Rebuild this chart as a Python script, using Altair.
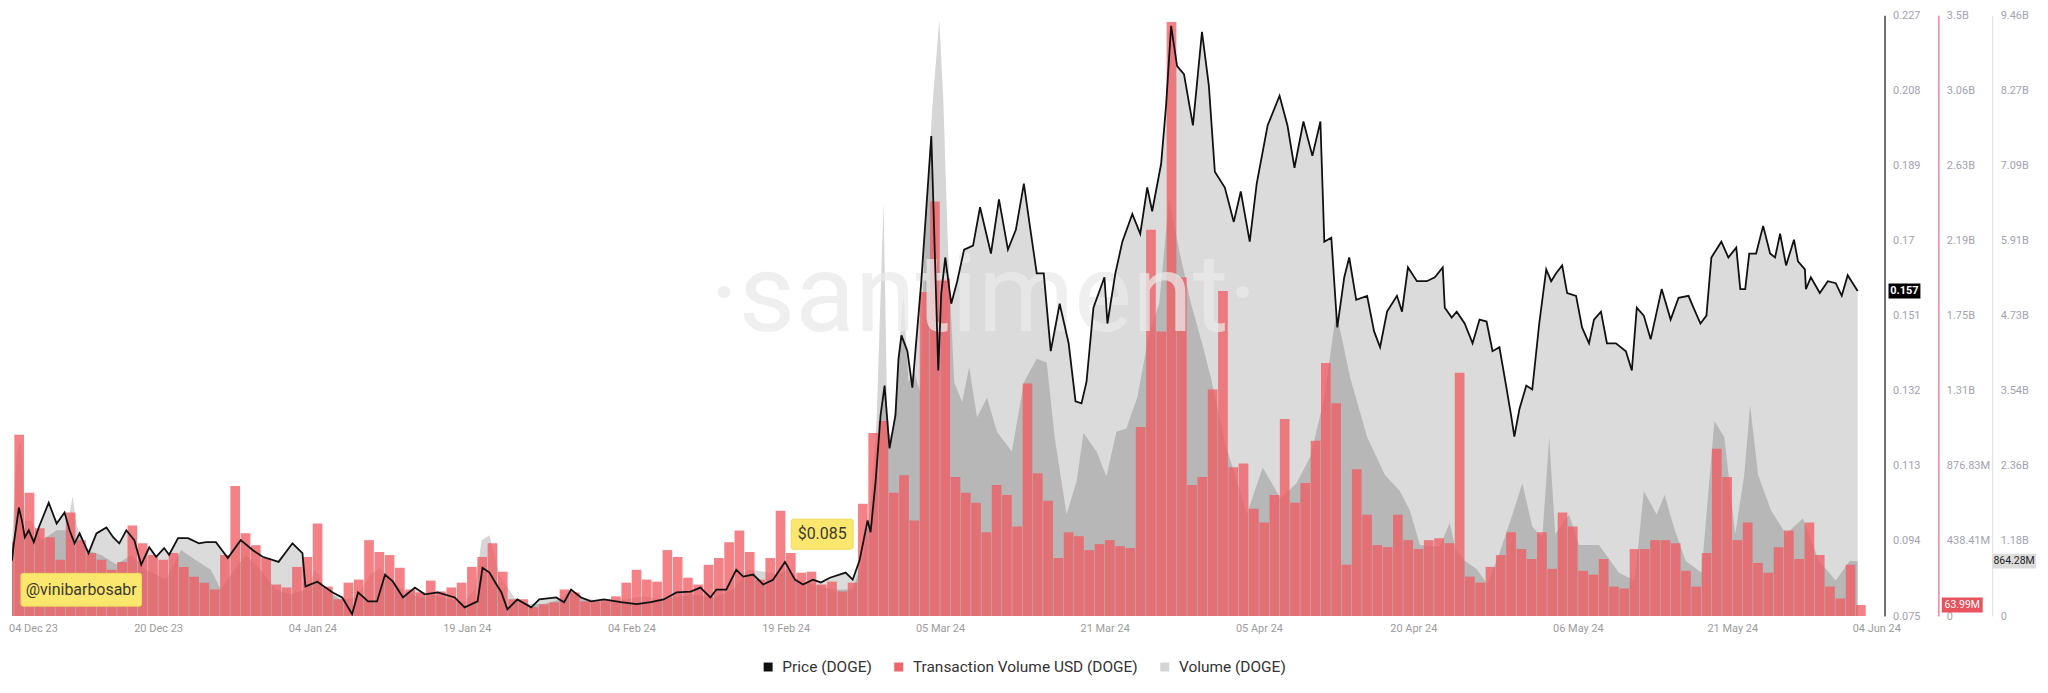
import altair as alt
import pandas as pd

ORIGIN = pd.Timestamp("2023-12-04T00:00:00Z")
DOMAIN_DAYS = [1.8, 183.8]
W, H = 1879, 603

# ---------------- data ----------------
# Price (DOGE): day offset from 04 Dec 2023, USD
price_days = [1.8,1.98,2.47,2.76,3.05,3.43,3.92,4.40,5.37,6.14,6.91,7.40,7.88,8.37,9.24,10.01,10.98,11.65,12.23,12.91,
              13.69,14.36,15.14,15.81,16.59,17.07,17.94,18.91,19.97,20.65,21.62,22.78,24.03,25.19,26.16,27.71,29.06,30.03,30.32,31.48,
              32.93,33.90,34.86,35.44,36.41,37.28,38.06,38.83,39.80,40.96,41.92,43.18,44.83,45.79,47.05,47.53,
              48.21,48.89,49.37,49.95,50.92,52.27,53.05,54.69,55.46,56.14,57.11,58.08,59.33,60.98,62.52,63.88,65.14,66.39,67.75,68.71,
              69.68,70.26,71.23,72.19,72.87,73.84,74.81,75.77,76.93,77.90,78.68,79.64,80.41,81.29,82.83,83.51,84.19,84.96,85.25,85.74,
              86.22,86.61,87.09,87.67,
              87.96,88.25,88.83,89.31,90.18,91.15,91.34,91.83,92.12,92.51,93.09,93.67,94.34,95.21,95.89,96.95,97.73,98.60,99.37,100.15,
              100.73,101.40,102.08,102.76,103.63,104.50,105.17,105.75,106.24,106.91,107.98,108.27,109.04,109.72,110.69,111.46,112.14,112.62,113.49,113.97,
              114.46,115.04,115.71,116.58,117.46,118.13,118.71,119.68,120.55,121.23,122.10,122.78,123.84,125.00,125.77,126.45,127.32,128.19,128.97,129.35,
              130.03,130.61,131.29,131.77,132.45,133.51,134.19,134.77,
              135.45,136.41,136.90,137.48,138.35,139.31,140.09,140.86,141.06,141.73,142.22,142.99,143.76,144.44,145.12,145.70,146.37,147.05,147.53,147.82,
              148.31,148.98,149.56,150.24,150.92,151.40,151.88,152.47,152.95,153.82,154.40,155.08,155.56,156.24,156.82,157.69,158.66,159.24,159.72,160.40,
              161.07,162.14,163.01,163.78,164.75,165.23,165.91,166.49,166.97,167.94,168.62,169.39,169.78,170.26,170.65,171.32,172.00,172.68,173.16,173.65,
              174.23,175.00,175.39,176.06,176.16,176.64,177.51,178.29,179.06,179.64,180.22,180.71,181.19]
price_vals = [0.0890,0.0934,0.1024,0.0992,0.0949,0.0967,0.0937,0.0974,0.1037,0.0984,0.1012,0.0967,0.0934,0.0959,0.0909,0.0959,0.0974,0.0949,0.0934,0.0967,
              0.0942,0.0880,0.0924,0.0900,0.0922,0.0905,0.0947,0.0947,0.0934,0.0937,0.0937,0.0897,0.0942,0.0917,0.0900,0.0887,0.0934,0.0909,0.0825,0.0837,
              0.0810,0.0797,0.0755,0.0810,0.0787,0.0787,0.0855,0.0837,0.0797,0.0822,0.0805,0.0810,0.0797,0.0772,0.0787,0.0872,
              0.0860,0.0830,0.0810,0.0767,0.0792,0.0772,0.0792,0.0797,0.0785,0.0817,0.0797,0.0787,0.0792,0.0785,0.0780,0.0785,0.0792,0.0810,0.0812,0.0822,
              0.0797,0.0817,0.0817,0.0867,0.0850,0.0855,0.0830,0.0842,0.0887,0.0842,0.0830,0.0842,0.0835,0.0847,0.0860,0.0842,0.0892,0.0992,0.0962,0.1091,
              0.1258,0.1333,0.1174,0.1258,
              0.1400,0.1460,0.1420,0.1328,0.1597,0.1964,0.1804,0.1371,0.1567,0.1657,0.1540,0.1597,0.1677,0.1687,0.1784,0.1667,0.1804,0.1677,0.1727,0.1844,
              0.1737,0.1617,0.1617,0.1420,0.1540,0.1440,0.1293,0.1288,0.1343,0.1530,0.1607,0.1490,0.1617,0.1697,0.1767,0.1717,0.1834,0.1774,0.1894,0.2041,
              0.2243,0.2141,0.2121,0.1991,0.2228,0.2091,0.1874,0.1834,0.1747,0.1824,0.1697,0.1844,0.1991,0.2066,0.1991,0.1884,0.2001,0.1914,0.2001,0.1697,
              0.1707,0.1480,0.1607,0.1657,0.1550,0.1560,0.1470,0.1430,
              0.1520,0.1560,0.1520,0.1632,0.1597,0.1597,0.1607,0.1632,0.1530,0.1505,0.1520,0.1490,0.1440,0.1500,0.1495,0.1420,0.1430,0.1328,0.1253,0.1204,
              0.1273,0.1333,0.1323,0.1490,0.1627,0.1597,0.1617,0.1637,0.1567,0.1560,0.1480,0.1440,0.1500,0.1520,0.1440,0.1440,0.1420,0.1371,0.1530,0.1510,
              0.1450,0.1577,0.1500,0.1555,0.1560,0.1530,0.1490,0.1510,0.1657,0.1697,0.1657,0.1682,0.1577,0.1577,0.1667,0.1667,0.1737,0.1667,0.1657,0.1717,
              0.1637,0.1702,0.1647,0.1627,0.1577,0.1607,0.1567,0.1597,0.1592,0.1560,0.1612,0.1592,0.1572]

# Transaction Volume USD (DOGE): one bar per day, first bar = day 1 (05 Dec 2023), millions USD
tx_first_day = 1
tx_musd = [431,1058,719,512,460,328,604,443,368,328,270,316,529,425,356,328,368,287,230,195,
           155,356,759,483,414,339,184,167,287,345,540,172,98,195,213,443,374,356,282,155,
           138,207,144,167,195,
           287,345,425,259,98,98,52,69,80,155,138,86,86,98,115,195,270,213,201,385,
           345,224,184,299,339,431,500,374,213,339,615,368,253,259,184,201,144,195,655,1069,
           1138,719,822,558,
           1891,2420,1972,
           811,719,661,489,765,707,523,1357,834,673,339,489,466,385,420,443,408,397,
           1104,2254,1661,3467,1978,765,811,1322,1897,868,891,627,546,707,1150,661,776,1023,1477,1242,
           300,857,592,414,402,
           592,443,391,443,454,425,1420,230,195,287,356,489,391,333,489,276,604,523,264,241,
           333,172,161,391,391,443,443,425,264,172,368,977,811,443,546,310,253,402,500,333,
           546,356,172,103,299,63.99]

# Volume (DOGE): day offset, billions DOGE
vol_days = [1.79,2.27,2.66,3.05,3.72,4.69,6.14,7.11,7.69,8.08,9.04,10.49,11.94,13.40,14.85,16.78,18.23,19.68,21.13,22.10,
            23.06,24.52,25.97,27.42,28.87,30.32,31.29,32.25,33.70,35.16,36.61,37.57,38.54,39.99,41.44,42.89,44.34,45.79,46.76,47.44,
            48.21,49.18,50.63,52.08,53.53,54.98,56.14,57.40,59.33,61.27,63.20,65.14,66.59,68.04,69.97,71.91,73.36,74.81,76.26,77.22,
            78.19,79.64,81.58,83.51,84.48,85.15,85.83,86.51,86.90,87.38,88.44,88.93,89.51,90.09,90.47,91.25,91.93,92.31,92.80,93.38,
            94.15,94.83,95.60,96.57,97.53,98.98,100.15,101.40,102.37,103.14,104.30,105.27,105.95,107.21,108.17,109.14,110.11,111.17,112.33,113.30,
            114.26,115.23,116.39,117.36,118.33,119.78,120.74,121.81,123.36,125.10,126.64,128.00,129.35,130.51,131.87,133.51,135.25,136.70,137.67,138.64,
            140.57,141.54,142.11,142.99,144.15,145.21,146.37,147.63,148.60,149.56,150.53,151.21,151.79,153.14,154.11,156.05,157.98,159.53,160.40,161.65,
            162.43,163.30,164.46,166.01,167.26,168.23,169.29,170.16,170.74,171.51,172.78,174.23,175.87,177.42,179.06,180.42,181.19]
vol_bn = [1.12,2.59,2.75,1.50,1.50,1.19,1.35,1.35,1.89,1.43,1.04,0.96,0.81,0.96,0.73,0.57,1.04,0.88,0.73,0.42,
          0.65,0.96,0.73,0.42,0.34,0.42,0.73,0.42,0.26,0.29,0.65,0.76,0.57,0.39,0.29,0.33,0.26,0.23,0.42,1.19,
          1.27,0.65,0.29,0.19,0.19,0.26,0.42,0.29,0.22,0.26,0.31,0.26,0.31,0.34,0.29,0.42,0.73,0.70,0.65,0.73,
          0.57,0.50,0.42,0.42,0.88,1.60,3.06,6.50,2.90,2.82,5.09,3.68,3.83,3.52,5.85,8.02,9.38,8.16,5.69,3.68,
          3.37,3.92,3.13,3.44,2.90,2.59,3.68,4.05,3.99,2.82,1.60,2.12,2.88,2.59,2.20,2.90,2.95,3.44,4.45,4.92,
          6.56,5.77,4.92,4.36,3.75,2.67,2.20,1.60,2.34,1.85,2.09,2.51,3.44,4.79,3.75,2.82,2.22,1.97,1.66,1.12,
          1.09,1.47,1.05,0.87,0.74,0.50,0.99,1.60,2.09,1.41,1.23,2.82,1.29,1.60,1.12,1.12,0.68,0.56,1.97,1.60,
          1.91,1.41,0.87,0.68,3.07,2.82,1.29,2.22,3.32,2.22,1.66,1.29,1.54,0.87,0.56,0.87,0.86428]

# axes
x_tick_dates = ["2023-12-07T20:00:00Z", "2023-12-20", "2024-01-04", "2024-01-19", "2024-02-04", "2024-02-19",
                "2024-03-05", "2024-03-21", "2024-04-05", "2024-04-20", "2024-05-06", "2024-05-21", "2024-06-04"]
first_tick_label = "04 Dec 23"
price_domain = [0.075, 0.227]
price_ticks = [0.075, 0.094, 0.113, 0.132, 0.151, 0.17, 0.189, 0.208, 0.227]
tx_domain = [0, 3507300000]
tx_ticks = [0, 438410000, 876830000, 1315240000, 1753650000, 2192070000, 2630480000, 3068890000, 3507300000]
tx_tick_labels = ["0", "438.41M", "876.83M", "1.31B", "1.75B", "2.19B", "2.63B", "3.06B", "3.5B"]
vol_domain = [0, 9457600000]
vol_ticks = [0, 1182200000, 2364400000, 3546600000, 4728800000, 5911000000, 7093200000, 8275400000, 9457600000]
vol_tick_labels = ["0", "1.18B", "2.36B", "3.54B", "4.73B", "5.91B", "7.09B", "8.27B", "9.46B"]

legend_names = ["Price (DOGE)", "Transaction Volume USD (DOGE)", "Volume (DOGE)"]
legend_colors = ["#111111", "#f0646b", "#d4d4d4"]

# annotation boxes: day range, price range, text
note_texts = ["@vinibarbosabr", "$0.085"]
note_day0 = [2.67, 77.54]
note_day1 = [14.39, 83.55]
note_p0 = [0.0775, 0.0919]
note_p1 = [0.0858, 0.0995]

# ---------------- tables ----------------
def ts(d):
    return ORIGIN + pd.Timedelta(days=d)

def iso(t):
    return t.strftime("%Y-%m-%dT%H:%M:%S") + "Z"

def ms(t):
    return int(pd.Timestamp(t).timestamp() * 1000)

assert len(price_days) == len(price_vals)
assert len(vol_days) == len(vol_bn)

price_df = pd.DataFrame({"t": [iso(ts(d)) for d in price_days], "price": price_vals})
tx_df = pd.DataFrame({
    "t0": [iso(ts(tx_first_day + i + 0.03)) for i in range(len(tx_musd))],
    "t1": [iso(ts(tx_first_day + i + 0.97)) for i in range(len(tx_musd))],
    "tx": [v * 1e6 for v in tx_musd],
})
vol_df = pd.DataFrame({"t": [iso(ts(d)) for d in vol_days], "vol": [v * 1e9 for v in vol_bn]})
notes_df = pd.DataFrame({
    "t0": [iso(ts(d)) for d in note_day0],
    "t1": [iso(ts(d)) for d in note_day1],
    "tc": [iso(ts((a + b) / 2)) for a, b in zip(note_day0, note_day1)],
    "p0": note_p0, "p1": note_p1,
    "pc": [(a + b) / 2 for a, b in zip(note_p0, note_p1)],
    "label": note_texts,
})
price_badge = pd.DataFrame({"v": [price_vals[-1]], "label": [f"{price_vals[-1]:.3f}"]})
tx_badge = pd.DataFrame({"v": [tx_musd[-1] * 1e6], "label": [f"{tx_musd[-1]:.2f}M"]})
vol_badge = pd.DataFrame({"v": [vol_bn[-1] * 1e9], "label": [f"{vol_bn[-1]*1000:.2f}M"]})
legend_df = pd.DataFrame({"s": legend_names})

FONT = "Roboto"
x_scale = alt.Scale(type="utc", domain=[ms(ts(DOMAIN_DAYS[0])), ms(ts(DOMAIN_DAYS[1]))])
cut = ms("2023-12-12T00:00:00Z")
x_axis = alt.Axis(
    values=[ms(d if d.endswith("Z") else d + "T00:00:00Z") for d in x_tick_dates],
    labelExpr=f"datum.value < {cut} ? '{first_tick_label}' : utcFormat(datum.value, '%d %b %y')",
    domain=False, ticks=False, grid=False, labelColor="#9c9c9c", labelFontSize=11,
    labelFont=FONT, labelPadding=6, labelFlush=False, title=None, labelOverlap=False, orient="bottom",
)

def X(field):
    return alt.X(field, scale=x_scale, axis=x_axis)

def arr_expr(labels, values):
    return ("[" + ",".join(f"'{s}'" for s in labels) + "][indexof([" +
            ",".join(str(v) for v in values) + "], datum.value)]")

common_y_axis = dict(orient="right", ticks=False, grid=False, labelColor="#a2a2b2", labelFontSize=11,
                     labelFont=FONT, labelPadding=8, title=None, labelAlign="left")
price_axis = alt.Axis(values=price_ticks, labelExpr="format(datum.value, '.3~f')",
                      domainColor="#707070", domainWidth=2, offset=0, **common_y_axis)
tx_axis = alt.Axis(values=tx_ticks, labelExpr=arr_expr(tx_tick_labels, tx_ticks),
                   domainColor="#f2849f", domainWidth=1.5, offset=54, **common_y_axis)
vol_axis = alt.Axis(values=vol_ticks, labelExpr=arr_expr(vol_tick_labels, vol_ticks),
                    domainColor="#e4e4e4", domainWidth=1.2, offset=108, **common_y_axis)

price_scale = alt.Scale(domain=price_domain, nice=False, zero=False)
tx_scale = alt.Scale(domain=tx_domain, nice=False)
vol_scale = alt.Scale(domain=vol_domain, nice=False)

price_area = alt.Chart(price_df).mark_area(color="#000000", opacity=0.14, clip=True).encode(
    x=X("t:T"),
    y=alt.Y("price:Q", scale=price_scale, axis=price_axis),
    y2=alt.datum(price_domain[0]),
)

vol_area = alt.Chart(vol_df).mark_area(color="#000000", opacity=0.16, clip=True).encode(
    x=X("t:T"),
    y=alt.Y("vol:Q", scale=vol_scale, axis=vol_axis),
)

tx_bars = alt.Chart(tx_df).mark_rect(color="#ef5a60", opacity=0.76, clip=True).encode(
    x=X("t0:T"),
    x2="t1:T",
    y=alt.Y("tx:Q", scale=tx_scale, axis=tx_axis),
    y2=alt.datum(0),
)

watermark = alt.Chart(pd.DataFrame({"w": ["\u00b7santiment\u00b7"]})).mark_text(
    font=FONT, fontSize=110, fontWeight=400, color="#eaeaea", opacity=0.75,
    align="center", baseline="middle",
).encode(text="w:N", x=alt.value(975), y=alt.value(284))

price_line = alt.Chart(price_df).mark_line(color="#111111", strokeWidth=1.8, clip=True).encode(
    x=X("t:T"),
    y=alt.Y("price:Q", scale=price_scale, axis=None),
)
note_rect = alt.Chart(notes_df).mark_rect(color="#fbe66e", cornerRadius=2, stroke="#efd95c", strokeWidth=1).encode(
    x=X("t0:T"), x2="t1:T",
    y=alt.Y("p0:Q", scale=price_scale, axis=None), y2="p1:Q",
)
note_text = alt.Chart(notes_df).mark_text(font=FONT, fontSize=16, color="#3b3a2e").encode(
    x=X("tc:T"),
    y=alt.Y("pc:Q", scale=price_scale, axis=None),
    text="label:N",
)
pb_shape = "M-1,-0.47L1,-0.47L1,0.47L-1,0.47Z"
p_badge_bg = alt.Chart(price_badge).mark_point(shape=pb_shape, size=1024, filled=True, opacity=1, color="#000000").encode(
    x=alt.value(W + 20), y=alt.Y("v:Q", scale=price_scale, axis=None))
p_badge_tx = alt.Chart(price_badge).mark_text(font=FONT, fontSize=11, fontWeight="bold", color="#ffffff").encode(
    x=alt.value(W + 20), y=alt.Y("v:Q", scale=price_scale, axis=None), text="label:N")
price_top = alt.layer(price_line, note_rect, note_text, p_badge_bg, p_badge_tx)

tb_shape = "M-1,-0.366L1,-0.366L1,0.366L-1,0.366Z"
t_badge_bg = alt.Chart(tx_badge).mark_point(shape=tb_shape, size=1681, filled=True, opacity=1, color="#e8535d").encode(
    x=alt.value(W + 78), y=alt.Y("v:Q", scale=tx_scale, axis=None))
t_badge_tx = alt.Chart(tx_badge).mark_text(font=FONT, fontSize=10.5, color="#ffffff").encode(
    x=alt.value(W + 78), y=alt.Y("v:Q", scale=tx_scale, axis=None), text="label:N")
tx_top = alt.layer(t_badge_bg, t_badge_tx)

vb_shape = "M-1,-0.341L1,-0.341L1,0.341L-1,0.341Z"
v_badge_bg = alt.Chart(vol_badge).mark_point(shape=vb_shape, size=1936, filled=True, opacity=1, color="#dcdcdc").encode(
    x=alt.value(W + 130), y=alt.Y("v:Q", scale=vol_scale, axis=None))
v_badge_tx = alt.Chart(vol_badge).mark_text(font=FONT, fontSize=10.5, color="#222222").encode(
    x=alt.value(W + 130), y=alt.Y("v:Q", scale=vol_scale, axis=None), text="label:N")
vol_top = alt.layer(v_badge_bg, v_badge_tx)

legend_layer = alt.Chart(legend_df).mark_square(opacity=0, size=0).encode(
    color=alt.Color("s:N", scale=alt.Scale(domain=legend_names, range=legend_colors),
                    legend=alt.Legend(orient="none", legendX=751, legendY=646, direction="horizontal",
                                      title=None, symbolType="square", symbolSize=81, symbolOpacity=1,
                                      symbolStrokeWidth=0, labelFontSize=15.5, labelFont=FONT, labelLimit=500,
                                      labelColor="#333333", columnPadding=19, labelOffset=6.5, padding=0))
)

chart = alt.layer(
    price_area, vol_area, tx_bars, watermark, price_top, tx_top, vol_top, legend_layer
).resolve_scale(y="independent").properties(
    width=W, height=H, padding={"left": 0, "top": 0, "right": 4, "bottom": 4}, background="#ffffff"
).configure_view(strokeWidth=0)

chart.save("out.html", embed_options={"renderer": "svg", "actions": False})
